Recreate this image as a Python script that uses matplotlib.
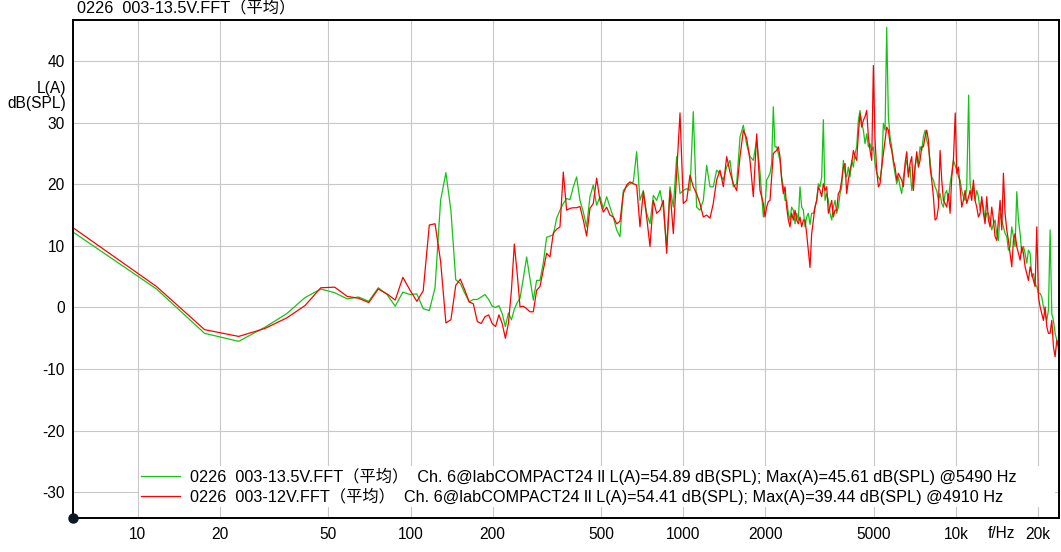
import matplotlib
matplotlib.use("Agg")
import matplotlib.pyplot as plt
from matplotlib.ticker import NullLocator
from matplotlib.font_manager import FontProperties

# Liberation Sans for latin text, Noto CJK for 平均 and the fullwidth brackets
plt.rcParams["font.family"] = ["Liberation Sans", "Noto Sans CJK SC"]
plt.rcParams["font.size"] = 11.2
plt.rcParams["axes.unicode_minus"] = False

title = "0226  003-13.5V.FFT（平均）"
labels = [
    "0226  003-13.5V.FFT（平均）  Ch. 6@labCOMPACT24 ll L(A)=54.89 dB(SPL); Max(A)=45.61 dB(SPL) @5490 Hz",
    "0226  003-12V.FFT（平均）  Ch. 6@labCOMPACT24 ll L(A)=54.41 dB(SPL); Max(A)=39.44 dB(SPL) @4910 Hz",
]

# frequencies (Hz) of the read points
freqs = [
    5.86, 11.72, 17.58, 23.44, 29.30, 35.16, 41.02, 46.88, 52.73, 58.59,
    64.45, 70.31, 76.17, 82.03, 87.89, 93.75, 99.61, 105.5, 111.3, 117.2,
    123.0, 128.9, 134.8, 140.6, 146.5, 152.3, 158.2, 164.1, 169.9, 175.8,
    181.6, 187.5, 193.4, 199.2, 205.1, 210.9, 216.8, 222.7, 228.5, 234.4,
    240.2, 246.1, 252.0,
    259.1, 266.5, 274.1, 281.9, 290.0, 298.2, 306.7, 315.5, 324.5, 333.8,
    343.3, 353.1, 363.2, 373.5, 384.2, 395.2, 406.4, 418.0, 430.0, 442.2,
    454.8, 467.8, 481.2, 494.9, 509.0, 523.6, 538.5, 553.9, 569.7, 586.0,
    602.7, 619.9, 637.6, 655.8, 674.5, 693.8, 713.6, 734.0, 754.9, 776.5,
    798.6, 821.4, 844.9, 869.0, 893.8, 919.3, 945.6, 972.6, 1000, 1029,
    1058, 1088, 1119, 1151, 1184, 1218, 1253, 1288, 1325, 1363,
    1402, 1442, 1483, 1525, 1569, 1614, 1660, 1707, 1756, 1806,
    1858, 1911, 1965, 2021, 2079, 2138, 2199, 2262, 2327, 2393,
    2461, 2532, 2604, 2678, 2755, 2833, 2914, 2998, 3083, 3171,
    3262, 3355, 3451, 3549, 3650, 3755, 3862, 3972, 4085, 4202,
    4322, 4445, 4572, 4703, 4837, 4975, 5117, 5263, 5414, 5568,
    5727, 5891, 6059, 6232, 6410, 6593, 6781, 6975, 7174, 7378,
    7589, 7806, 8029, 8258, 8494, 8736, 8986, 9242, 9506, 9777,
    9930, 10056, 10343, 10638, 10942, 11120, 11254, 11576, 11906, 12246, 12596,
    12955, 13325, 13706, 14097, 14500, 14914, 15339, 15777, 16228, 16691,
    17168, 17658, 18162, 18681, 19214, 19763, 20327, 20907, 21504, 22118,
    22750, 23399, 24000,
]

# 003-13.5V, dB(SPL) A-weighted
green_db = [
    12.1, 3.0, -4.2, -5.5, -3.2, -1.0, 1.6, 3.0, 2.4, 1.4,
    1.7, 1.0, 3.2, 2.1, 0.2, 2.5, 2.1, 2.2, -0.2, -0.5,
    3.2, 17.4, 21.9, 15.8, 4.5, 3.9, 2.3, 0.9, 1.3, 1.3,
    1.7, 2.1, 1.3, 0.2, 0.0, 0.3, -1.0, -3.1, -0.9, -2.0,
    -0.3, 0.8, 1.5,
    4.7, 8.2, 4.7, 1.2, 4.4, 4.4, 7.2, 11.4, 11.6, 11.8,
    14.5, 15.8, 16.9, 17.7, 17.5, 19.6, 21.2, 17.4, 15.5, 13.1,
    18.0, 19.9, 16.6, 18.0, 16.1, 18.0, 16.3, 14.7, 12.6, 11.5,
    19.0, 19.6, 20.1, 20.4, 25.3, 17.4, 19.0, 15.3, 13.6, 18.2,
    17.4, 19.0, 16.1, 9.9, 19.6, 16.3, 24.5, 18.5, 19.0, 19.3,
    19.0, 31.8, 16.3, 15.8, 17.4, 23.1, 19.6, 19.6, 22.3, 21.8,
    20.7, 22.8, 23.9, 19.6, 20.1, 27.7, 29.6, 26.5, 24.5, 23.9,
    27.2, 22.0, 14.7, 20.7, 21.8, 32.6, 26.1, 23.9, 19.6, 17.4,
    14.2, 15.8, 15.3, 19.6, 15.8, 14.7, 13.5, 15.3, 17.4, 19.6,
    30.5, 18.5, 15.3, 16.3, 15.3, 18.5, 23.9, 21.2, 21.2, 22.8,
    26.1, 32.0, 28.8, 28.2, 26.6, 26.1, 21.8, 20.7, 29.9, 45.5,
    27.7, 23.4, 20.1, 19.6, 21.2, 23.9, 22.8, 20.7, 24.5, 26.1,
    27.7, 27.2, 23.9, 20.7, 19.0, 18.5, 16.3, 19.0, 20.1, 23.9,
    23.0, 22.3, 20.7, 18.0, 19.6, 34.5, 20.1, 19.6, 19.0, 15.8, 16.3,
    15.3, 14.2, 13.6, 12.0, 15.3, 13.1, 11.5, 9.9, 11.5, 18.8,
    12.0, 9.9, 7.2, 8.8, 5.5, 3.4, 2.3, 0.1, -2.1, 12.6,
    -2.1, -5.3, -9.6,
]

# 003-12V, dB(SPL) A-weighted
red_db = [
    12.8, 3.4, -3.6, -4.7, -3.4, -1.7, 0.3, 3.2, 3.3, 1.8,
    1.5, 0.8, 3.0, 2.2, 1.2, 4.9, 2.8, 1.0, 2.7, 13.4,
    13.6, 7.5, -2.5, -2.0, 3.6, 4.6, 2.8, 0.9, 0.6, -2.3,
    -2.6, -1.5, -1.2, -2.6, -3.1, -1.2, -2.6, -5.0, -2.6, 2.8,
    10.3, 5.5, 0.1,
    0.2, -0.2, -0.7, -0.7, 2.8, 3.4, 6.1, 8.8, 8.2, 12.1,
    12.7, 13.1, 22.0, 15.8, 16.1, 16.2, 16.2, 16.4, 14.2, 11.6,
    16.1, 16.9, 21.0, 17.4, 15.5, 16.3, 15.0, 14.7, 13.6, 14.0,
    18.5, 19.9, 20.4, 20.1, 19.9, 13.1, 18.8, 14.7, 9.9, 17.4,
    15.3, 15.8, 17.4, 8.8, 19.0, 12.0, 21.8, 31.6, 16.9, 17.4,
    21.5, 19.6, 18.5, 16.9, 14.7, 15.0, 14.5, 16.9, 20.7, 22.3,
    19.6, 24.5, 22.0, 20.1, 19.0, 24.5, 28.8, 27.5, 23.9, 18.0,
    28.2, 19.0, 16.9, 16.3, 17.4, 25.0, 25.5, 24.5, 18.5, 16.3,
    13.1, 14.2, 14.2, 14.7, 14.2, 12.0, 6.5, 14.2, 17.4, 19.0,
    20.1, 19.6, 16.3, 14.7, 15.8, 19.0, 22.8, 18.5, 22.3, 25.5,
    23.9, 31.5, 30.4, 32.0, 25.5, 39.3, 22.3, 20.1, 25.0, 29.3,
    26.6, 23.9, 20.7, 21.2, 19.6, 25.3, 23.4, 19.0, 25.3, 23.9,
    26.1, 28.8, 22.8, 18.0, 14.5, 25.5, 17.4, 16.3, 15.3, 23.9,
    31.6, 21.8, 19.6, 17.4, 16.9, 18.0, 19.0, 20.7, 16.3, 15.3, 15.3,
    18.0, 13.1, 14.2, 10.9, 17.4, 21.8, 12.6, 8.8, 10.9, 9.9,
    7.7, 8.8, 5.5, 6.6, 4.4, 13.1, 0.1, -2.1, -3.1, -4.2,
    -6.4, -5.3, -8.5,
]

# extra readings in the dense part above 2 kHz (other edge of the noise band)
freqs_mid = [
    1993, 2050, 2108, 2168, 2230, 2294, 2360, 2427, 2496, 2568,
    2641, 2716, 2794, 2873, 2955, 3040, 3127, 3216, 3308, 3403,
    3500, 3599, 3702, 3808, 3917, 4028, 4143, 4262, 4383, 4508,
    4637, 4770, 4906, 5045, 5190, 5338, 5491, 5647, 5808, 5974,
    6145, 6320, 6501, 6686, 6877, 7074, 7276, 7483, 7697, 7917,
    8143, 8375, 8614, 8860, 9113, 9373, 9641, 10198, 10490, 10789,
    11413, 11740, 12075, 12420, 12774, 13139, 13514, 13900, 14297, 14705,
    15125, 15556, 16001, 16458, 16928, 17411, 17908, 18419, 18946, 19486,
    20043, 20615, 21203, 21809, 22431, 23072, 23731,
]
green_mid = [
    16.3, 21.2, 23.4, 26.1, 25.0, 21.2, 17.4, 15.3, 16.3, 13.6,
    14.2, 16.3, 13.1, 15.3, 15.3, 16.3, 20.1, 21.2, 17.4, 17.4,
    14.2, 17.4, 16.3, 19.6, 21.8, 22.8, 23.9, 25.0, 30.4, 29.9,
    26.6, 26.1, 25.5, 23.4, 21.2, 22.8, 28.8, 31.0, 26.1, 21.8,
    21.2, 18.5, 22.8, 21.8, 19.0, 22.8, 23.4, 25.5, 28.8, 26.1,
    21.2, 19.6, 17.4, 16.9, 18.5, 17.4, 21.8, 21.2, 19.0, 17.4,
    18.5, 17.4, 18.0, 17.4, 14.2, 15.3, 12.6, 14.2, 10.9, 14.2,
    12.0, 9.3, 13.1, 9.9, 14.2, 8.8, 8.8, 9.3, 5.0, 3.9,
    2.3, 1.7, -1.0, -0.4, -1.0, -4.2, -6.4,
]
red_mid = [
    14.7, 17.2, 21.2, 25.3, 26.1, 20.7, 19.6, 14.2, 15.3, 15.8,
    13.6, 13.1, 14.2, 9.3, 12.0, 16.3, 19.6, 18.0, 19.0, 15.3,
    17.4, 15.8, 18.5, 20.7, 23.4, 20.7, 23.4, 24.5, 28.2, 29.3,
    31.0, 27.7, 23.9, 27.2, 19.6, 22.8, 27.2, 28.8, 25.5, 22.8,
    21.8, 20.7, 23.4, 21.2, 24.5, 22.8, 22.8, 26.1, 27.7, 27.2,
    20.7, 14.2, 16.3, 20.7, 16.9, 18.5, 21.2, 22.8, 16.3, 19.0,
    17.4, 17.4, 14.7, 18.0, 13.6, 14.2, 16.3, 11.5, 14.2, 12.6,
    15.3, 10.9, 6.6, 12.0, 8.8, 9.9, 6.6, 4.4, 5.5, 3.4,
    1.7, -1.0, 0.1, -4.2, -2.1, -8.0, -6.4,
]

xticks = [10, 20, 50, 100, 200, 500, 1000, 2000, 5000, 10000, 20000]
xticklabels = ["10", "20", "50", "100", "200", "500", "1000", "2000", "5000", "10k", "20k"]
yticks = [-30, -20, -10, 0, 10, 20, 30, 40]

# merge both sets of readings in frequency order
pts = sorted(zip(freqs + freqs_mid, green_db + green_mid, red_db + red_mid))
f_all = [p[0] for p in pts]
g_all = [p[1] for p in pts]
r_all = [p[2] for p in pts]

fig = plt.figure(figsize=(10.61, 5.52), dpi=100)
ax = fig.add_axes([73 / 1061, 1 - 518 / 552, 986 / 1061, 498 / 552])

ax.plot(f_all, g_all, color="#14c414", lw=0.9, label=labels[0])
ax.plot(f_all, r_all, color="#ff0000", lw=0.9, label=labels[1])

ax.set_xscale("log")
ax.set_xlim(5.79, 23840)
ax.set_ylim(-34.2, 46.7)
ax.set_xticks(xticks, labels=xticklabels)
ax.xaxis.set_minor_locator(NullLocator())
ax.set_yticks(yticks)
ax.tick_params(length=0, labelsize=11.2)
ax.tick_params(axis="x", pad=6.5)
ax.tick_params(axis="y", pad=6)
ax.grid(True, color="#c8c8c8", lw=0.8)
ax.set_axisbelow(True)
for s in ax.spines.values():
    s.set_linewidth(1.4)
    s.set_color("black")

# dot at the origin corner
ax.plot([0], [0], "o", color="#0b1626", ms=6.5, transform=ax.transAxes,
        clip_on=False, zorder=6)

fig.text(77 / 1061, 1 - 8 / 552, title, ha="left", va="center", fontsize=11.7)
fig.text(66 / 1061, 1 - 96 / 552, "L(A)\ndB(SPL)", ha="right", va="center",
         multialignment="right", fontsize=11.2, linespacing=1.05)
fig.text(1001 / 1061, 1 - 533 / 552, "f/Hz", ha="center", va="center", fontsize=11.2)

leg = ax.legend(loc="lower left", bbox_to_anchor=(0.0669, 0.022, 0.929, 0.104),
                mode="expand", borderaxespad=0, frameon=True, fancybox=False,
                handlelength=2.4, handletextpad=0.64, borderpad=0.12,
                labelspacing=0.2,
                prop=FontProperties(family=["Liberation Sans", "Noto Sans CJK SC"], size=11.7))
leg.get_frame().set_facecolor("white")
leg.get_frame().set_edgecolor("none")
leg.get_frame().set_alpha(1)

fig.savefig("out.png", dpi=100)
